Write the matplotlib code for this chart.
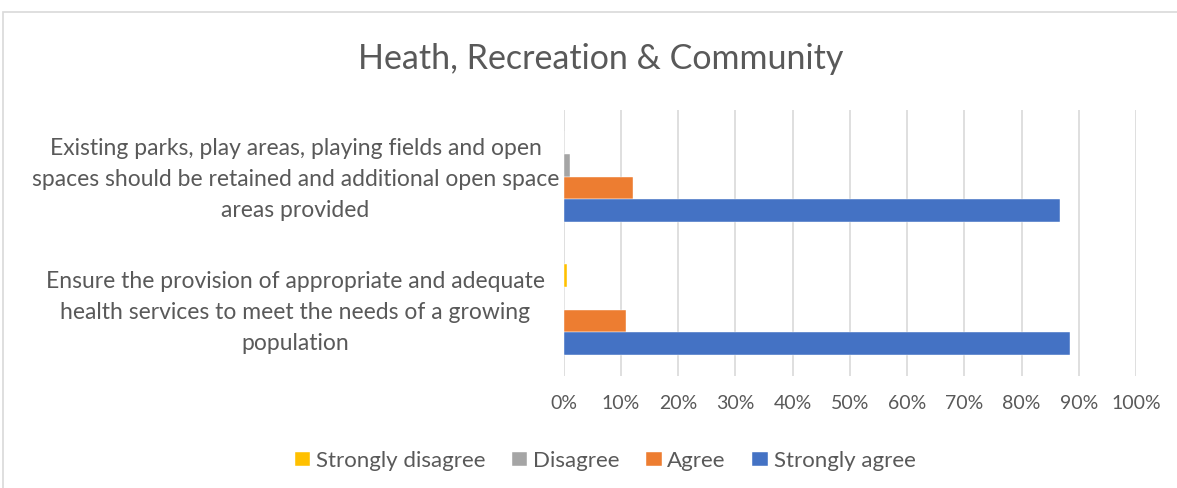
import matplotlib.pyplot as plt
import numpy as np
from matplotlib.patches import Rectangle
from matplotlib.transforms import ScaledTranslation

# categories (top to bottom) and series values in percent
categories = [
    'Existing parks, play areas, playing fields and open\nspaces should be retained and additional open space\nareas provided',
    'Ensure the provision of appropriate and adequate\nhealth services to meet the needs of a growing\npopulation',
]
series_names = ['Strongly disagree', 'Disagree', 'Agree', 'Strongly agree']
strongly_disagree = [0.0, 0.6]
disagree = [1.1, 0.0]
agree = [12.1, 11.0]
strongly_agree = [86.8, 88.5]
colors = ['#FFC000', '#A5A5A5', '#ED7D31', '#4472C4']
xticks = np.arange(0, 101, 10)

plt.rcParams['font.family'] = ['Lato', 'DejaVu Sans']
text_color = '#595959'

fig = plt.figure(figsize=(11.77, 4.88), dpi=100)
ax = fig.add_axes([563.5 / 1177, 1 - 376 / 488, 572.5 / 1177, 266 / 488])

# chart border
fig.patches.append(Rectangle((3 / 1177, -0.1), 1.1, 1 - 12 / 488 + 0.1,
                             transform=fig.transFigure, fill=False,
                             edgecolor='#D9D9D9', linewidth=1.2))

y = np.arange(len(categories))
h = 0.17
all_values = [strongly_disagree, disagree, agree, strongly_agree]
for i, (name, vals, c) in enumerate(zip(series_names, all_values, colors)):
    ax.barh(y + (i - 1.5) * h, vals, height=h, color=c, label=name,
            edgecolor='white', linewidth=0.3, zorder=3)

ax.set_xlim(0, 100)
ax.set_ylim(1.5, -0.5)
ax.set_xticks(xticks)
ax.set_xticklabels([f'{v}%' for v in xticks])
ax.set_yticks(y)
ax.set_yticklabels(categories, ha='center', multialignment='center', linespacing=1.6)
ax.tick_params(axis='y', length=0, pad=193, labelsize=16.5, labelcolor=text_color)
ax.tick_params(axis='x', length=0, pad=14, labelsize=14, labelcolor=text_color)
# nudge category labels up a little
for lbl in ax.get_yticklabels():
    lbl.set_transform(lbl.get_transform() + ScaledTranslation(0, 0.04, fig.dpi_scale_trans))
ax.grid(axis='x', color='#D9D9D9', linewidth=1.2, zorder=0)
for s in ax.spines.values():
    s.set_visible(False)

fig.text(601 / 1177, 1 - 59 / 488, 'Heath, Recreation & Community',
         ha='center', va='center', fontsize=24.5, color=text_color)

leg = fig.legend(loc='center', bbox_to_anchor=(605 / 1177, 1 - 461 / 488), ncol=4,
                 frameon=False, fontsize=16, handlelength=0.7, handleheight=0.55,
                 handletextpad=0.25, columnspacing=1.2)
for t in leg.get_texts():
    t.set_color(text_color)

fig.savefig('out.png', dpi=100)
